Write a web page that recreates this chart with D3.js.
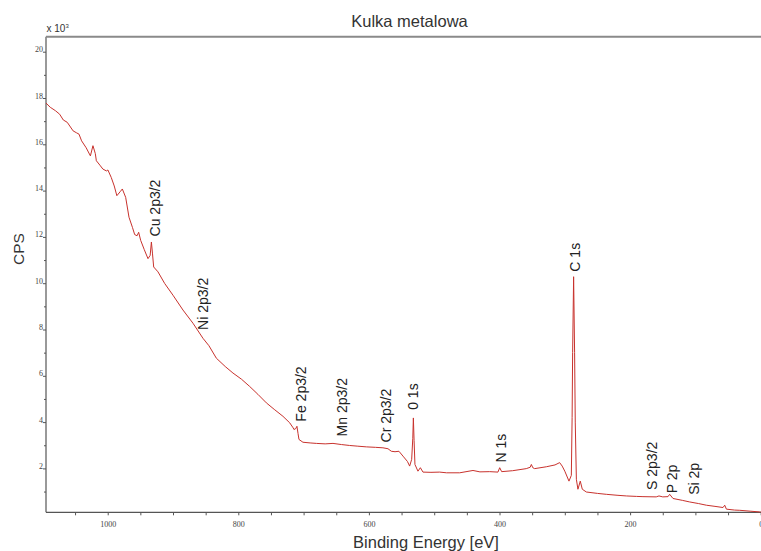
<!DOCTYPE html>
<html>
<head>
<meta charset="utf-8">
<script src="https://cdn.jsdelivr.net/npm/d3@7"></script>
<style>
    body { margin: 0; background: #fff; }
    .tick text { font-family: "Liberation Serif", "DejaVu Serif", serif; font-size: 8px; fill: #444; }
    .label { font-family: "Liberation Sans", Arial, sans-serif; fill: #222; }
</style>
</head>
<body>
<script>
//spectrum: binding energy (eV) and counts (x 10^3 CPS)
var bindingEnergy = [1094.5, 1088, 1080, 1073.6, 1068, 1062, 1053, 1048, 1044, 1040, 1033, 1026.5, 1022.6, 1019, 1017.4,
    1012, 1007.4, 1002, 999.7, 994.6, 990, 986, 981, 977.6, 972.5, 967.4, 962, 958.7, 955, 952.6, 949.5, 944, 938.3,
    935, 933.1, 931.5, 929.6, 923, 912.8, 900, 884.7, 869.4, 854.1, 845, 833.6, 820, 808.2, 795, 782.6, 770, 757, 745,
    731.6, 721.3, 716, 714.8, 712, 710.2, 708.5, 707.1, 701, 690, 680.5, 667, 655, 642, 629.5, 617, 604, 590, 578.5,
    570.8, 565.6, 560, 554, 547.8, 541, 537.6, 534.5, 532.8, 531.9, 530.8, 529.5, 524.9, 521.2, 517.2, 505, 491.6, 481,
    461, 440.6, 430, 415, 402.4, 399.7, 396.7, 380, 359, 353, 351.2, 349, 346.2, 328.3, 315, 307.9, 304, 300, 293.6,
    290, 288.8, 288, 286.5, 285, 284, 282.3, 279.9, 276.3, 273.2, 267, 250, 236.4, 220, 205.8, 190, 180.3, 160, 155.8,
    150, 142, 139.4, 134.3, 120, 108.7, 95, 83.2, 70, 57.7, 55.1, 52.5, 40, 32, 15, 1.6, 0];
var counts = [17.78, 17.6, 17.45, 17.3, 17.05, 16.95, 16.58, 16.5, 16.44, 16.15, 15.85, 15.5, 15.94, 15.6, 15.29,
    15.1, 14.93, 14.85, 14.89, 14.57, 14.2, 13.78, 13.95, 14.07, 13.71, 12.85, 12.4, 12.1, 12.05, 12.2, 11.85, 11.45, 11.06,
    11.2, 11.78, 11.3, 10.7, 10.49, 9.99, 9.48, 8.84, 8.27, 7.62, 7.3, 6.76, 6.4, 6.12, 5.85, 5.54, 5.2, 4.83, 4.55,
    4.25, 3.97, 3.75, 3.68, 3.72, 3.82, 3.5, 3.25, 3.13, 3.1, 3.08, 3.06, 3.08, 3.03, 2.99, 2.96, 2.93, 2.91, 2.89,
    2.85, 2.74, 2.72, 2.74, 2.53, 2.3, 2.1, 2.39, 3.3, 4.18, 3.2, 2.17, 1.88, 2.03, 1.84, 1.83, 1.84, 1.81,
    1.81, 1.91, 1.85, 1.86, 1.84, 2.03, 1.86, 1.9, 1.99, 2.05, 2.17, 2.03, 1.99, 2.07, 2.15, 2.25, 2.1, 1.88, 1.45,
    1.7, 4.2, 7.0, 10.28, 7.0, 4.0, 1.53, 1.1, 1.45, 1.1, 0.98, 0.92, 0.88, 0.84, 0.81, 0.79, 0.78, 0.77, 0.81,
    0.77, 0.78, 0.88, 0.7, 0.62, 0.55, 0.48, 0.41, 0.36, 0.31, 0.41, 0.24, 0.2, 0.19, 0.15, 0.12, 0.12];

//peak annotations: name, binding energy and count level where the text starts
var peakNames = ["Cu 2p3/2", "Ni 2p3/2", "Fe 2p3/2", "Mn 2p3/2", "Cr 2p3/2", "0 1s", "N 1s", "C 1s", "S 2p3/2", "P 2p", "Si 2p"];
var peakBE = [920.4, 846.4, 695.7, 633.5, 565.6, 524.8, 390.5, 277.2, 158.8, 127.7, 94.5];
var peakLevel = [12.02, 7.98, 4.02, 3.38, 3.12, 4.53, 2.25, 10.5, 1.07, 0.93, 0.86];

//axis ticks
var xMajorTicks = [1000, 800, 600, 400, 200, 0];
var yMajorTicks = [2, 4, 6, 8, 10, 12, 14, 16, 18, 20];

var chartTitle = "Kulka metalowa";

window.onload = drawChart();

function drawChart(){
    var width = 761,
        height = 551;
    var svg = d3.select("body")
        .append("svg")
        .attr("width", width)
        .attr("height", height);

    //plot frame
    var left = 46, right = 760.7, top = 36.7, bottom = 512.3;

    //binding energy runs from high to low
    var x = d3.scaleLinear()
        .domain([1094.5, 0])
        .range([left, right]);
    var y = d3.scaleLinear()
        .domain([0, 20])
        .range([514.7, 51.7]);

    var points = bindingEnergy.map(function(be, i){
        return [be, counts[i]];
    });

    //minor ticks
    var xMinor = d3.range(0, 1095, 50).filter(function(d){ return xMajorTicks.indexOf(d) < 0; });
    var yMinor = d3.range(1, 21, 2);

    var xAxis = svg.append("g")
        .attr("transform", "translate(0," + bottom + ")")
        .call(d3.axisBottom(x).tickValues(xMajorTicks).tickSize(3).tickPadding(4).tickFormat(d3.format("d")));
    svg.append("g")
        .attr("transform", "translate(0," + bottom + ")")
        .call(d3.axisBottom(x).tickValues(xMinor).tickSize(3).tickFormat(""));
    var yAxis = svg.append("g")
        .attr("transform", "translate(" + left + ",0)")
        .call(d3.axisLeft(y).tickValues(yMajorTicks).tickSize(3).tickPadding(0));
    svg.append("g")
        .attr("transform", "translate(" + left + ",0)")
        .call(d3.axisLeft(y).tickValues(yMinor).tickSize(2).tickFormat(""));

    //axis styling
    svg.selectAll(".domain").remove();
    svg.selectAll(".tick line").attr("stroke", "#555");
    //y labels sit on the tick line
    yAxis.selectAll(".tick text").attr("dy", "0").attr("y", 0);
    xAxis.selectAll(".tick text").attr("dy", "0").attr("y", 15);

    svg.append("line")
        .attr("x1", left).attr("x2", left)
        .attr("y1", top).attr("y2", bottom)
        .attr("stroke", "#555").attr("stroke-width", 1.2);
    svg.append("line")
        .attr("x1", left).attr("x2", width)
        .attr("y1", bottom).attr("y2", bottom)
        .attr("stroke", "#555").attr("stroke-width", 1.2);
    svg.append("line")
        .attr("x1", left).attr("x2", width)
        .attr("y1", top).attr("y2", top)
        .attr("stroke", "#8a8a8a").attr("stroke-width", 2);

    //spectrum
    var line = d3.line()
        .x(function(d){ return x(d[0]); })
        .y(function(d){ return y(d[1]); });
    svg.append("path")
        .datum(points)
        .attr("d", line)
        .attr("fill", "none")
        .attr("stroke", "#c8322d")
        .attr("stroke-width", 1);

    //peak labels, reading upward
    svg.selectAll(".peak")
        .data(peakNames)
        .enter()
        .append("text")
        .attr("class", "label peak")
        .attr("transform", function(d, i){
            return "translate(" + x(peakBE[i]) + "," + y(peakLevel[i]) + ") rotate(-90)";
        })
        .style("font-size", "14px")
        .text(function(d){ return d; });

    //title and axis titles
    svg.append("text")
        .attr("class", "label")
        .attr("x", 409.5).attr("y", 27.3)
        .attr("text-anchor", "middle")
        .style("font-size", "16.5px")
        .style("fill", "#333")
        .text(chartTitle);
    svg.append("text")
        .attr("class", "label")
        .attr("x", 426).attr("y", 548.3)
        .attr("text-anchor", "middle")
        .style("font-size", "16.5px")
        .style("fill", "#333")
        .text("Binding Energy [eV]");
    svg.append("text")
        .attr("class", "label")
        .attr("transform", "translate(23.5,249) rotate(-90)")
        .attr("text-anchor", "middle")
        .style("font-size", "15.5px")
        .style("fill", "#333")
        .text("CPS");

    //multiplier above the y axis
    var mult = svg.append("text")
        .attr("class", "label")
        .attr("x", 46.5).attr("y", 32)
        .style("font-size", "10px")
        .style("fill", "#333")
        .text("x 10");
    mult.append("tspan")
        .attr("dy", -4)
        .style("font-size", "6px")
        .text("3");
};
</script>
</body>
</html>
